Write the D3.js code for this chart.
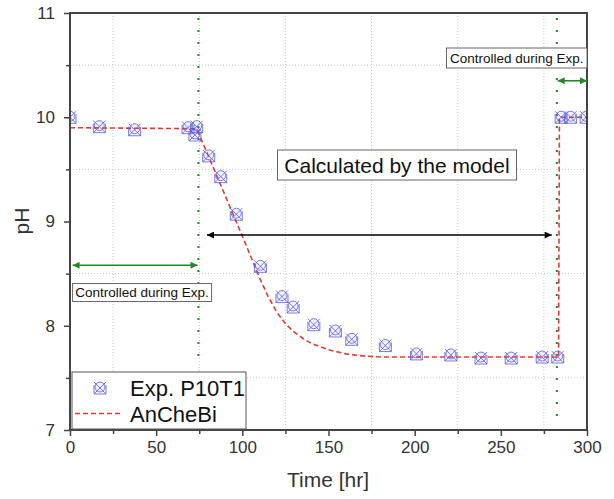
<!DOCTYPE html>
<html>
<head>
<meta charset="utf-8">
<script src="https://cdn.jsdelivr.net/npm/d3@7"></script>
<style>
  html, body { margin: 0; padding: 0; background: #fff; }
  svg { display: block; font-family: "Liberation Sans", Arial, sans-serif; }
</style>
</head>
<body>
<svg id="chart" width="614" height="499"></svg>
<script>
// ---------- data ----------
const expTime = [0, 17, 37.5, 68.5, 72.5, 73.5, 80.5, 87.5, 96.5, 110.5, 123, 129.5, 141.5, 154, 163.5, 183, 201, 221, 238.5, 256, 274, 283, 285, 290.5, 299.5];
const expPH   = [10.0, 9.91, 9.88, 9.90, 9.83, 9.91, 9.63, 9.43, 9.07, 8.57, 8.28, 8.18, 8.01, 7.95, 7.87, 7.81, 7.73, 7.72, 7.69, 7.69, 7.70, 7.70, 10.0, 10.0, 10.0];

const modelTime = [0, 73, 75, 80, 90, 100, 110, 115, 120, 125, 130, 135, 140, 150, 160, 170, 180, 283.5, 284, 300];
const modelPH   = [9.90, 9.89, 9.83, 9.64, 9.25, 8.86, 8.46, 8.28, 8.13, 8.02, 7.94, 7.88, 7.83, 7.77, 7.73, 7.71, 7.70, 7.70, 10.0, 10.0];

const xMajorTicks = [0, 50, 100, 150, 200, 250, 300];
const xMinorTicks = [25, 75, 125, 175, 225, 275];
const yMajorTicks = [7, 8, 9, 10, 11];
const yMinorTicks = [7.5, 8.5, 9.5, 10.5];

const seriesNames = ["Exp. P10T1", "AnCheBi"];
const xTitle = "Time [hr]";
const yTitle = "pH";

// annotation anchors (data units)
const controlLines = [74.5, 282.5];
const controlLabel = "Controlled during Exp.";
const modelLabel = "Calculated by the model";

// ---------- layout ----------
const svg = d3.select("#chart");
const pL = 70, pR = 587, pT = 13, pB = 430;
const x = d3.scaleLinear().domain([0, 300]).range([pL, pR]);
const y = d3.scaleLinear().domain([7, 11]).range([pB, pT]);

const axisColor = "#444";
const labelColor = "#333";
const green = "#1f8a22";
const blue = "#5656e8";
const red = "#e53a33";

const defs = svg.append("defs");
defs.append("clipPath").attr("id", "plotclip")
  .append("rect").attr("x", pL).attr("y", pT).attr("width", pR - pL).attr("height", pB - pT);

function arrowMarker(id, color) {
  defs.append("marker").attr("id", id).attr("viewBox", "0 0 10 10")
    .attr("refX", 10).attr("refY", 5).attr("markerWidth", 9).attr("markerHeight", 7)
    .attr("markerUnits", "userSpaceOnUse").attr("orient", "auto-start-reverse")
    .append("path").attr("d", "M0,0 L10,5 L0,10 z").attr("fill", color);
}
arrowMarker("arrG", green);
arrowMarker("arrK", "#000");

// grid (minor positions, dotted)
const grid = svg.append("g");
grid.selectAll("line.gx").data(xMinorTicks).join("line")
  .attr("x1", d => x(d)).attr("x2", d => x(d)).attr("y1", pT).attr("y2", pB)
  .attr("stroke", "#c8c8c8").attr("stroke-width", 1).attr("stroke-dasharray", "1,2");
grid.selectAll("line.gy").data(yMinorTicks).join("line")
  .attr("y1", d => y(d)).attr("y2", d => y(d)).attr("x1", pL).attr("x2", pR)
  .attr("stroke", "#c8c8c8").attr("stroke-width", 1).attr("stroke-dasharray", "1,2");

// control vertical green dotted lines
svg.append("line").attr("x1", x(controlLines[0])).attr("x2", x(controlLines[0]))
  .attr("y1", 18).attr("y2", 363)
  .attr("stroke", green).attr("stroke-width", 2).attr("stroke-dasharray", "2,10");
svg.append("line").attr("x1", x(controlLines[1])).attr("x2", x(controlLines[1]))
  .attr("y1", 18).attr("y2", 420)
  .attr("stroke", green).attr("stroke-width", 2).attr("stroke-dasharray", "2,10");

// model line
const plot = svg.append("g").attr("clip-path", "url(#plotclip)");
const line = d3.line().x((d, i) => x(modelTime[i])).y((d, i) => y(modelPH[i]));
plot.append("path").datum(modelPH).attr("d", line)
  .attr("fill", "none").attr("stroke", red).attr("stroke-width", 1.6).attr("stroke-dasharray", "5,3");

// markers
function drawMarker(g, cx, cy) {
  const s = 6;
  g.append("path")
    .attr("d", `M${cx - s},${cy + s} L${cx + s},${cy - s} M${cx - s},${cy - s} L${cx + s},${cy + s} M${cx - s},${cy + s} L${cx + s},${cy + s} M${cx - s},${cy - s + 3} L${cx - s},${cy + s} M${cx + s},${cy - s + 3} L${cx + s},${cy + s}`)
    .attr("stroke", blue).attr("stroke-width", 0.8).attr("fill", "none");
  g.append("circle").attr("cx", cx).attr("cy", cy - 1).attr("r", 5)
    .attr("stroke", blue).attr("stroke-width", 0.8).attr("fill", "rgba(120,120,255,0.1)");
}
const mk = plot.append("g");
expTime.forEach((t, i) => drawMarker(mk, x(t), y(expPH[i])));

// axes frame
svg.append("rect").attr("x", pL).attr("y", pT).attr("width", pR - pL).attr("height", pB - pT)
  .attr("fill", "none").attr("stroke", axisColor).attr("stroke-width", 2);

const xAxis = d3.axisBottom(x).tickValues(xMajorTicks).tickSize(6).tickFormat(d3.format("d"));
const gx = svg.append("g").attr("transform", `translate(0,${pB})`).call(xAxis);
gx.select(".domain").remove();
gx.selectAll(".tick line").attr("stroke", axisColor).attr("stroke-width", 1.5);
gx.selectAll(".tick text").attr("font-size", 17).attr("fill", labelColor).attr("y", 11)
  .attr("font-family", "Liberation Sans, Arial, sans-serif");
const gxm = svg.append("g").attr("transform", `translate(0,${pB})`)
  .call(d3.axisBottom(x).tickValues(xMinorTicks).tickSize(4).tickFormat(""));
gxm.select(".domain").remove();
gxm.selectAll(".tick line").attr("stroke", axisColor).attr("stroke-width", 1.5);

const yAxis = d3.axisLeft(y).tickValues(yMajorTicks).tickSize(6).tickFormat(d3.format("d"));
const gy = svg.append("g").attr("transform", `translate(${pL},0)`).call(yAxis);
gy.select(".domain").remove();
gy.selectAll(".tick line").attr("stroke", axisColor).attr("stroke-width", 1.5);
gy.selectAll(".tick text").attr("font-size", 17).attr("fill", labelColor).attr("x", -15)
  .attr("font-family", "Liberation Sans, Arial, sans-serif");
const gym = svg.append("g").attr("transform", `translate(${pL},0)`)
  .call(d3.axisLeft(y).tickValues(yMinorTicks).tickSize(4).tickFormat(""));
gym.select(".domain").remove();
gym.selectAll(".tick line").attr("stroke", axisColor).attr("stroke-width", 1.5);

// axis titles
svg.append("text").attr("x", 328).attr("y", 487).attr("text-anchor", "middle")
  .attr("font-size", 21).attr("fill", labelColor).text(xTitle);
svg.append("text").attr("transform", "translate(29,221) rotate(-90)").attr("text-anchor", "middle")
  .attr("font-size", 21).attr("fill", labelColor).text(yTitle);

// annotations
svg.append("line").attr("x1", x(1.5)).attr("x2", x(74)).attr("y1", y(8.58)).attr("y2", y(8.58))
  .attr("stroke", green).attr("stroke-width", 1.6)
  .attr("marker-start", "url(#arrG)").attr("marker-end", "url(#arrG)");
function labelBox(x0, y0, w, h, txt, fs) {
  svg.append("rect").attr("x", x0).attr("y", y0).attr("width", w).attr("height", h)
    .attr("fill", "#fff").attr("stroke", "#666").attr("stroke-width", 1);
  svg.append("text").attr("x", x0 + w / 2).attr("y", y0 + h / 2).attr("dy", "0.36em")
    .attr("text-anchor", "middle").attr("font-size", fs).attr("fill", "#111").text(txt);
}
labelBox(x(1.5), y(8.405), 139, 18, controlLabel, 13.5);

svg.append("line").attr("x1", x(79.5)).attr("x2", x(279.5)).attr("y1", y(8.87)).attr("y2", y(8.87))
  .attr("stroke", "#000").attr("stroke-width", 1.6)
  .attr("marker-start", "url(#arrK)").attr("marker-end", "url(#arrK)");
labelBox(277.5, 150, 239, 30, modelLabel, 21);

labelBox(446.5, 48, 140.5, 20, controlLabel, 13.5);
svg.append("line").attr("x1", x(283)).attr("x2", x(300)).attr("y1", y(10.35)).attr("y2", y(10.35))
  .attr("stroke", green).attr("stroke-width", 1.6)
  .attr("marker-start", "url(#arrG)").attr("marker-end", "url(#arrG)");

// legend
const lg = svg.append("g");
lg.append("rect").attr("x", 72).attr("y", 372).attr("width", 174).attr("height", 57)
  .attr("fill", "#fff").attr("stroke", "#555").attr("stroke-width", 1);
drawMarker(lg, 100, 388);
lg.append("line").attr("x1", 75).attr("x2", 121).attr("y1", 413.5).attr("y2", 413.5)
  .attr("stroke", red).attr("stroke-width", 1.6).attr("stroke-dasharray", "5,3");
lg.append("text").attr("x", 130).attr("y", 396).attr("font-size", 22).attr("fill", "#111").text(seriesNames[0]);
lg.append("text").attr("x", 130).attr("y", 422).attr("font-size", 22).attr("fill", "#111").text(seriesNames[1]);
</script>
</body>
</html>
